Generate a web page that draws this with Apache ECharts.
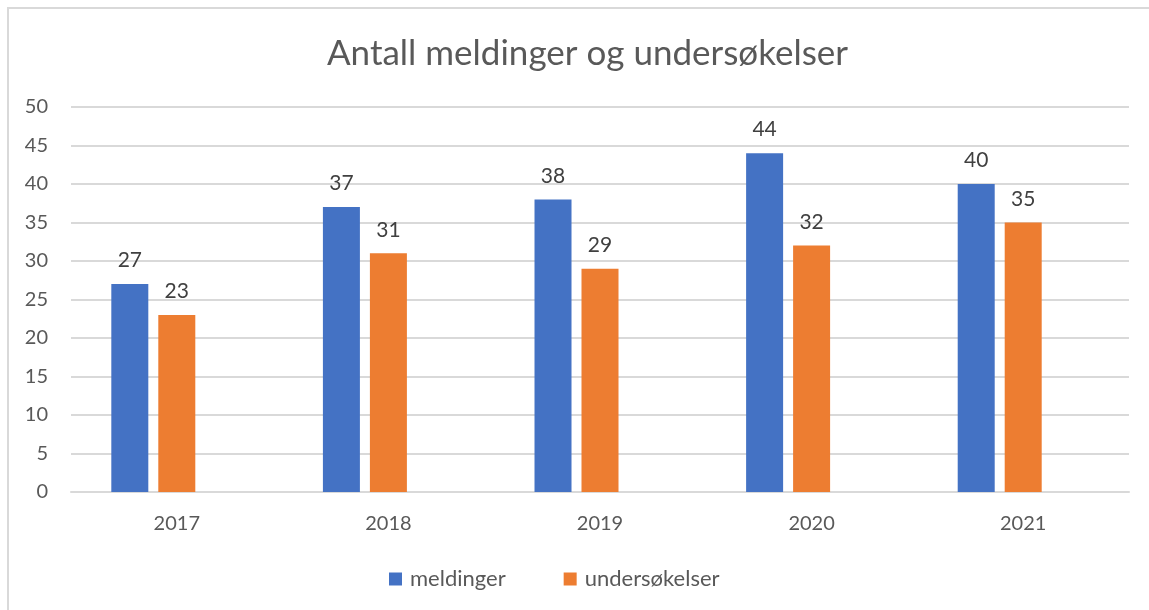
<!DOCTYPE html>
<html>
<head>
<meta charset="utf-8">
<script src="https://cdn.jsdelivr.net/npm/echarts@6/dist/echarts.min.js"></script>
<style>
  html, body { margin: 0; padding: 0; background: #fff; overflow: hidden; }
  #frame {
    position: absolute; left: 7px; top: 7px; width: 1160px; height: 620px;
    border: 2px solid #d9d9d9; box-sizing: border-box;
  }
  #chart { position: absolute; left: 0; top: 0; width: 1149px; height: 610px; }
</style>
</head>
<body>
<div id="frame"></div>
<div id="chart"></div>
<script>
const years = ['2017', '2018', '2019', '2020', '2021'];
const meldinger = [27, 37, 38, 44, 40];
const undersokelser = [23, 31, 29, 32, 35];
const tomSerie = [null, null, null, null, null]; // empty third series, keeps the Excel bar offset

const font = 'Lato, "Open Sans", sans-serif';
const labelStyle = {
  show: true,
  position: 'top',
  distance: 13,
  color: '#404040',
  fontSize: 21,
  fontFamily: font,
};

const chart = echarts.init(document.getElementById('chart'));

chart.setOption({
  animation: false,
  title: {
    text: 'Antall meldinger og undersøkelser',
    left: 322,
    top: 31,
    textStyle: { color: '#595959', fontSize: 35, fontWeight: 'normal', fontFamily: font },
  },
  legend: {
    data: ['meldinger', 'undersøkelser'],
    bottom: 15,
    left: 384,
    icon: 'rect',
    itemWidth: 13,
    itemHeight: 13,
    itemGap: 58,
    textStyle: { color: '#595959', fontSize: 22, fontFamily: font, padding: [0, 0, 0, 3] },
  },
  grid: { left: 71, right: 20, top: 107, bottom: 118 },
  xAxis: {
    type: 'category',
    data: years,
    axisLine: { lineStyle: { color: '#d9d9d9', width: 2 } },
    axisTick: { show: false },
    axisLabel: { color: '#595959', fontSize: 20, fontFamily: font, margin: 22 },
  },
  yAxis: {
    type: 'value',
    min: 0,
    max: 50,
    interval: 5,
    axisLine: { show: false },
    axisTick: { show: false },
    splitLine: { lineStyle: { color: '#d9d9d9', width: 2 } },
    axisLabel: { color: '#595959', fontSize: 20, fontFamily: font, margin: 23 },
  },
  series: [
    {
      name: 'meldinger', type: 'bar', data: meldinger,
      barWidth: 37, barGap: '27%',
      itemStyle: { color: '#4472c4' }, label: labelStyle,
    },
    {
      name: 'undersøkelser', type: 'bar', data: undersokelser,
      barWidth: 37, barGap: '27%',
      itemStyle: { color: '#ed7d31' }, label: labelStyle,
    },
    {
      name: 'tom', type: 'bar', data: tomSerie,
      barWidth: 37, barGap: '27%',
      itemStyle: { color: '#a5a5a5' },
    },
  ],
});
</script>
</body>
</html>
